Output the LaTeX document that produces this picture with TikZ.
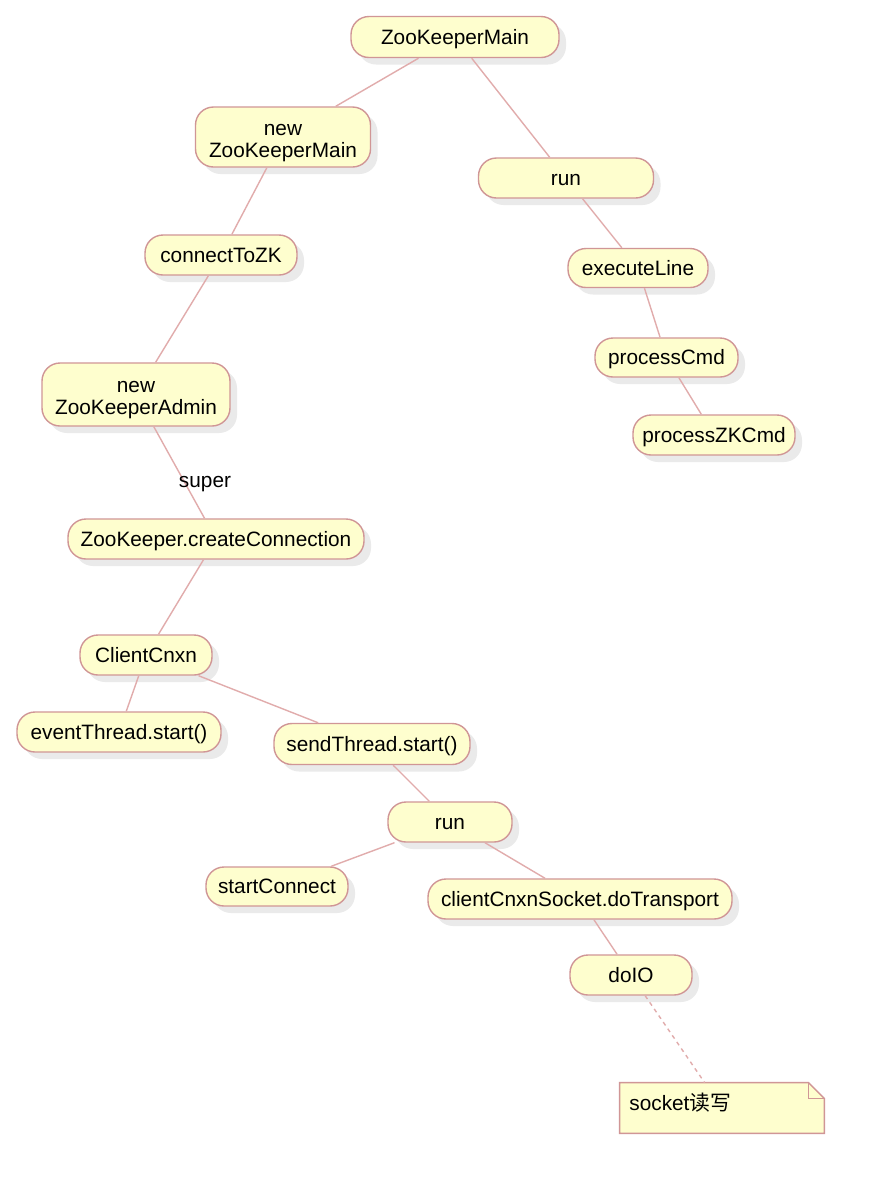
\documentclass[tikz,border=0pt]{standalone}
\usepackage{fontspec}
\setmainfont{Liberation Sans}
\newfontfamily\cjk{Noto Sans CJK SC}
\usetikzlibrary{shadows}
\definecolor{actfill}{HTML}{FEFECE}
\definecolor{actborder}{RGB}{208,150,150}
\definecolor{linkcol}{RGB}{225,172,172}
\newcommand{\tallstrut}{\rule{0pt}{11.5pt}}
\tikzset{
  act/.style={draw=actborder, line width=0.7pt, fill=actfill, rounded corners=9pt,
    inner sep=0pt, align=center, font=\fontsize{10.4}{12}\selectfont,
    drop shadow={fill=black!10, shadow xshift=3.5pt, shadow yshift=-3.5pt, opacity=0.8}},
  one/.style={text height=8pt, text depth=0.6pt},
  two/.style={font=\fontsize{10.4}{11}\selectfont},
  link/.style={draw=linkcol, line width=0.7pt},
  notelink/.style={draw=linkcol, line width=0.7pt, dash pattern=on 2pt off 2pt},
  lbl/.style={font=\fontsize{10.4}{12}\selectfont, inner sep=0pt},
}
\begin{document}
\begin{tikzpicture}[x=0.5pt, y=-0.5pt]
\useasboundingbox (0,0) rectangle (891,1200);
\fill[white] (0,0) rectangle (891,1200);

\node[act, one, minimum width=104pt, minimum height=20.5pt] (zkm) at (455,37) {ZooKeeperMain};
\node[act, two, minimum width=87.5pt, minimum height=30pt] (newzkm) at (283,137) {\tallstrut new\\ZooKeeperMain};
\node[act, one, minimum width=87.5pt, minimum height=20pt] (run1) at (566,178) {run};
\node[act, one, minimum width=76pt, minimum height=20pt] (conn) at (221,255) {connectToZK};
\node[act, one, minimum width=70pt, minimum height=19.5pt] (exec) at (638,268) {executeLine};
\node[act, one, minimum width=71.5pt, minimum height=19.5pt] (pcmd) at (666.5,357.5) {processCmd};
\node[act, one, minimum width=81pt, minimum height=20pt] (pzk) at (714,435) {processZKCmd};
\node[act, two, minimum width=94pt, minimum height=31.5pt] (admin) at (136,394.5) {\tallstrut new\\ZooKeeperAdmin};
\node[act, one, minimum width=148pt, minimum height=20pt] (create) at (216,539) {ZooKeeper.createConnection};
\node[act, one, minimum width=66pt, minimum height=20pt] (cnxn) at (146,655) {ClientCnxn};
\node[act, one, minimum width=102pt, minimum height=20pt] (event) at (119,732) {eventThread.start()};
\node[act, one, minimum width=98pt, minimum height=20.5pt] (send) at (372,744) {sendThread.start()};
\node[act, one, minimum width=62pt, minimum height=20pt] (run2) at (450,822) {run};
\node[act, one, minimum width=71pt, minimum height=19.5pt] (start) at (277,886.5) {startConnect};
\node[act, one, minimum width=152pt, minimum height=20pt] (trans) at (580,899) {clientCnxnSocket.doTransport};
\node[act, one, minimum width=61pt, minimum height=20pt] (doio) at (631,975) {doIO};

\node[minimum width=102pt, minimum height=25pt, inner sep=0pt] (note) at (722,1108) {};
\fill[actfill] (note.north west) -- ([xshift=-8pt]note.north east) -- ([yshift=-8pt]note.north east) -- (note.south east) -- (note.south west) -- cycle;
\draw[actborder, line width=0.7pt] (note.north west) -- ([xshift=-8pt]note.north east) -- ([yshift=-8pt]note.north east) -- (note.south east) -- (note.south west) -- cycle;
\draw[actborder, line width=0.7pt] ([xshift=-8pt]note.north east) |- ([yshift=-8pt]note.north east);
\node[lbl, anchor=west] (notetext) at (629,1103) {socket{\cjk 读写}};

\draw[link] (zkm) -- (newzkm);
\draw[link] (zkm) -- (run1);
\draw[link] (newzkm) -- (conn);
\draw[link] (run1) -- (exec);
\draw[link] (exec) -- (pcmd);
\draw[link] (pcmd) -- (pzk);
\draw[link] (conn) -- (admin);
\draw[link] (admin) -- (create);
\node[lbl] (super) at (205,484) {super};
\draw[link] (create) -- (cnxn);
\draw[link] (cnxn) -- (event);
\draw[link] (cnxn) -- (send);
\draw[link] (send) -- (run2);
\draw[link] (run2) -- (start);
\draw[link] (run2) -- (trans);
\draw[link] (trans) -- (doio);
\draw[notelink] (doio) -- (note);
\end{tikzpicture}
\end{document}
